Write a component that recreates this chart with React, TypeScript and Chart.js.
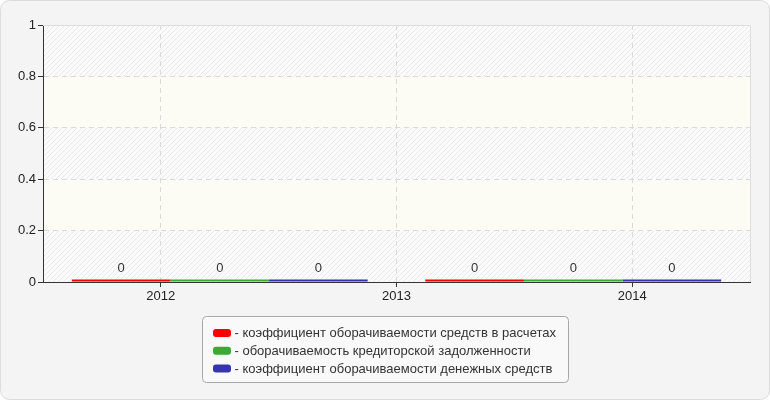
import React, { useEffect, useRef } from 'react';
import { Chart, registerables } from 'chart.js';

Chart.register(...registerables);

// ---- data ----
const years = ['2012', '2013', '2014'];
const barSlots = ['slot1', 'slot2'];
const seriesNames = [
  'коэффициент оборачиваемости средств в расчетах',
  'оборачиваемость кредиторской задолженности',
  'коэффициент оборачиваемости денежных средств',
];
const seriesColors = ['#ff0000', '#3aa935', '#3535b0'];
const receivablesTurnover = [0, 0];
const payablesTurnover = [0, 0];
const cashTurnover = [0, 0];
const yTickValues = [0, 0.2, 0.4, 0.6, 0.8, 1];

const FONT = '"Liberation Sans", Arial, sans-serif';

function makeHatch(): CanvasPattern | string {
  const s = 5;
  const c = document.createElement('canvas');
  c.width = s;
  c.height = s;
  const g = c.getContext('2d');
  if (!g) return '#f8f8f8';
  g.fillStyle = '#fbfbfb';
  g.fillRect(0, 0, s, s);
  g.strokeStyle = '#eaeaea';
  g.lineWidth = 1;
  g.beginPath();
  g.moveTo(0, s);
  g.lineTo(s, 0);
  g.moveTo(-1, 1);
  g.lineTo(1, -1);
  g.moveTo(s - 1, s + 1);
  g.lineTo(s + 1, s - 1);
  g.stroke();
  const p = g.createPattern(c, 'repeat');
  return p || '#f8f8f8';
}

function roundRect(ctx: CanvasRenderingContext2D, x: number, y: number, w: number, h: number, r: number) {
  ctx.beginPath();
  ctx.moveTo(x + r, y);
  ctx.lineTo(x + w - r, y);
  ctx.arcTo(x + w, y, x + w, y + r, r);
  ctx.lineTo(x + w, y + h - r);
  ctx.arcTo(x + w, y + h, x + w - r, y + h, r);
  ctx.lineTo(x + r, y + h);
  ctx.arcTo(x, y + h, x, y + h - r, r);
  ctx.lineTo(x, y + r);
  ctx.arcTo(x, y, x + r, y, r);
  ctx.closePath();
}

const decorPlugin = {
  id: 'decor',
  beforeDraw(chart: any) {
    const ctx: CanvasRenderingContext2D = chart.ctx;
    ctx.save();
    // outer panel
    roundRect(ctx, 0.5, 0.5, chart.width - 1, chart.height - 1, 9);
    ctx.fillStyle = '#f4f4f4';
    ctx.fill();
    ctx.strokeStyle = '#dcdcdc';
    ctx.lineWidth = 1;
    ctx.stroke();
    // plot bands
    const { left, right } = chart.chartArea;
    const yScale = chart.scales.y;
    const hatch = makeHatch();
    for (let i = 0; i < yTickValues.length - 1; i++) {
      const yb = yScale.getPixelForValue(yTickValues[i]);
      const yt = yScale.getPixelForValue(yTickValues[i + 1]);
      ctx.fillStyle = i % 2 === 0 ? (hatch as any) : '#fcfcf5';
      ctx.fillRect(left, yt, right - left, yb - yt);
    }
    ctx.restore();
  },
  beforeDatasetsDraw(chart: any) {
    const ctx: CanvasRenderingContext2D = chart.ctx;
    const { left, right, top, bottom } = chart.chartArea;
    ctx.save();
    ctx.strokeStyle = '#dddddd';
    ctx.lineWidth = 1;
    ctx.beginPath();
    ctx.moveTo(left, Math.round(top) + 0.5);
    ctx.lineTo(Math.round(right) + 0.5, Math.round(top) + 0.5);
    ctx.lineTo(Math.round(right) + 0.5, bottom);
    ctx.stroke();
    ctx.restore();
  },
  afterDatasetsDraw(chart: any) {
    const ctx: CanvasRenderingContext2D = chart.ctx;
    ctx.save();
    ctx.font = '13px ' + FONT;
    ctx.fillStyle = '#333333';
    ctx.textAlign = 'center';
    ctx.textBaseline = 'bottom';
    chart.data.datasets.forEach((ds: any, di: number) => {
      const meta = chart.getDatasetMeta(di);
      meta.data.forEach((el: any, i: number) => {
        ctx.fillText(String(ds.data[i]), el.x, el.y - 5);
      });
    });
    ctx.restore();
  },
  afterDraw(chart: any) {
    const ctx: CanvasRenderingContext2D = chart.ctx;
    ctx.save();
    ctx.font = '13px ' + FONT;
    const texts = chart.data.datasets.map((d: any) => '- ' + d.label);
    const maxW = Math.max(...texts.map((t: string) => ctx.measureText(t).width));
    const padL = 11, sw = 18, gap = 3, padR = 13;
    const w = Math.round(padL + sw + gap + maxW + padR);
    const h = 66;
    const x = Math.round((chart.width - w) / 2) + 0.5;
    const y = Math.round(chart.chartArea.bottom + 34) + 0.5;
    roundRect(ctx, x, y, w, h, 4);
    ctx.fillStyle = '#f9f9f9';
    ctx.fill();
    ctx.strokeStyle = '#a8a8a8';
    ctx.lineWidth = 1;
    ctx.stroke();
    texts.forEach((t: string, i: number) => {
      const cy = y + 16.5 + i * 17.8;
      roundRect(ctx, x + padL - 0.5, cy - 4, sw, 8, 3);
      ctx.fillStyle = chart.data.datasets[i].backgroundColor;
      ctx.fill();
      ctx.fillStyle = '#333333';
      ctx.textAlign = 'left';
      ctx.textBaseline = 'middle';
      ctx.fillText(t, x + padL + sw + gap, cy + 0.5);
    });
    ctx.restore();
  },
};

export default function App() {
  const ref = useRef<HTMLCanvasElement | null>(null);
  useEffect(() => {
    if (!ref.current) return;
    const seriesValues = [receivablesTurnover, payablesTurnover, cashTurnover];
    const chart = new Chart(ref.current, {
      type: 'bar',
      data: {
        labels: barSlots,
        datasets: seriesNames.map((name, i) => ({
          label: name,
          data: seriesValues[i],
          backgroundColor: seriesColors[i],
          borderWidth: 0,
          xAxisID: 'x2',
          yAxisID: 'y',
          minBarLength: 2.5,
          categoryPercentage: 0.837,
          barPercentage: 1,
        })),
      },
      options: {
        animation: false,
        responsive: false,
        devicePixelRatio: 1,
        layout: { padding: { top: 25, left: 0, right: 20, bottom: 88 } },
        plugins: {
          legend: { display: false },
          tooltip: { enabled: false },
          title: { display: false },
        },
        scales: {
          x: {
            type: 'category',
            labels: years,
            offset: true,
            position: 'bottom',
            grid: {
              offset: false,
              color: '#dadada',
              tickColor: '#333333',
              tickLength: 5,
              drawOnChartArea: true,
            },
            border: { color: '#333333', width: 1, dash: [5, 4] },
            ticks: {
              color: '#222222',
              font: { family: FONT, size: 13 },
              padding: 2,
              maxRotation: 0,
              autoSkip: false,
            },
            afterFit(scale: any) {
              scale.height = 30;
            },
          },
          x2: {
            type: 'category',
            labels: barSlots,
            offset: true,
            display: false,
            grid: { display: false },
          },
          y: {
            type: 'linear',
            min: 0,
            max: 1,
            grid: {
              color: '#dadada',
              tickColor: '#333333',
              tickLength: 5,
            },
            border: { color: '#333333', width: 1, dash: [5, 4] },
            afterBuildTicks(scale: any) {
              scale.ticks = yTickValues.map((v) => ({ value: v }));
            },
            ticks: {
              color: '#222222',
              font: { family: FONT, size: 13 },
              padding: 2,
              callback: (v: any) => String(Number(Number(v).toFixed(1))),
            },
            afterFit(scale: any) {
              scale.width = 43;
            },
          },
        },
      } as any,
      plugins: [decorPlugin],
    });
    return () => chart.destroy();
  }, []);
  return (
    <div style={{ position: 'fixed', left: 0, top: 0, width: 770, height: 400 }}>
      <canvas ref={ref} width={770} height={400} style={{ display: 'block', width: 770, height: 400 }} />
    </div>
  );
}
